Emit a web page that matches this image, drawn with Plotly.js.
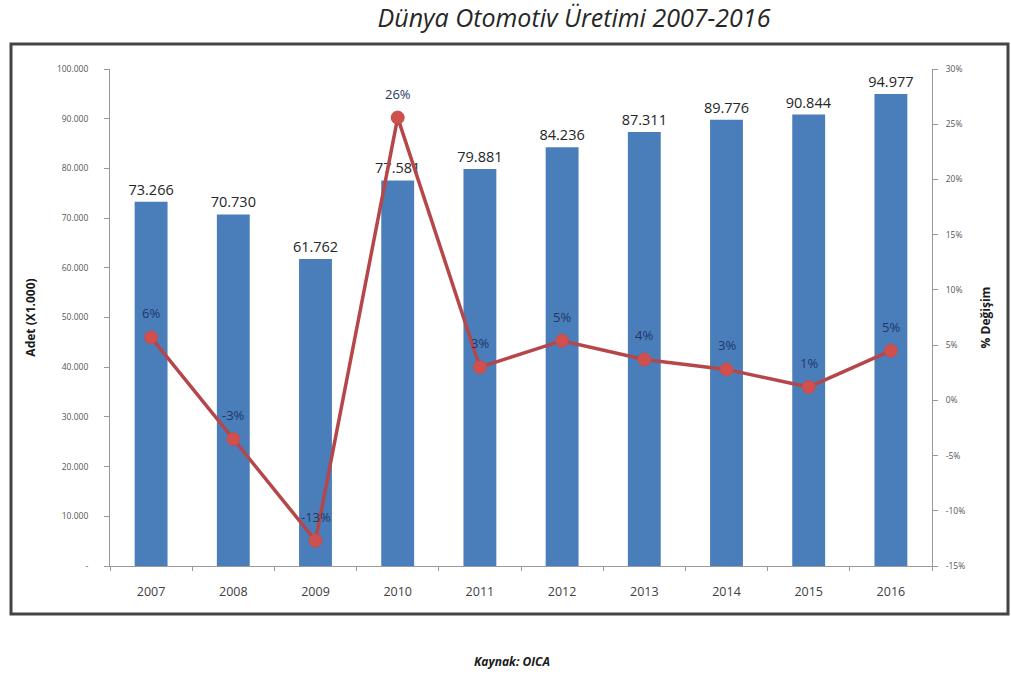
<!DOCTYPE html>
<html>
<head>
<meta charset="utf-8">
<script src="https://cdn.plot.ly/plotly-3.0.1.min.js"></script>
<style>
html,body{margin:0;padding:0;background:#fff;}
#chart{width:1011px;height:679px;}
</style>
</head>
<body>
<div id="chart"></div>
<script>
const years = [2007, 2008, 2009, 2010, 2011, 2012, 2013, 2014, 2015, 2016];
const yearLabels = ['2007','2008','2009','2010','2011','2012','2013','2014','2015','2016'];
const production = [73266, 70730, 61762, 77581, 79881, 84236, 87311, 89776, 90844, 94977];
const productionLabels = ['73.266','70.730','61.762','77.581','79.881','84.236','87.311','89.776','90.844','94.977'];
const changePct = [5.7, -3.5, -12.7, 25.6, 3.0, 5.4, 3.7, 2.8, 1.2, 4.5];
const changeLabels = ['6%','-3%','-13%','26%','3%','5%','4%','3%','1%','5%'];
const leftTickVals = [0,10000,20000,30000,40000,50000,60000,70000,80000,90000,100000];
const leftTickText = ['-','10.000','20.000','30.000','40.000','50.000','60.000','70.000','80.000','90.000','100.000'];
const rightTickVals = [-15,-10,-5,0,5,10,15,20,25,30];
const rightTickText = ['-15%','-10%','-5%','0%','5%','10%','15%','20%','25%','30%'];

const bars = {
  type:'bar', x:years, y:production, text:productionLabels,
  textposition:'outside', constraintext:'none', cliponaxis:false, width:0.4,
  textfont:{family:'Open Sans, Calibri, sans-serif', size:14.5, color:'#262626'},
  marker:{color:'#4a7ebb'}, hoverinfo:'x+y', showlegend:false
};
const line = {
  type:'scatter', mode:'lines+markers', x:years, y:changePct, xaxis:'x', yaxis:'y2',
  line:{color:'#b5474a', width:3.5},
  marker:{color:'#d0504f', size:13, line:{color:'#c0504d', width:1}},
  cliponaxis:false, showlegend:false
};

const annotations = changeLabels.map((t,i)=>({
  x:years[i], y:changePct[i], xref:'x', yref:'y2', text:t, showarrow:false,
  yshift:24, font:{family:'Open Sans, Calibri, sans-serif', size:13, color:'#1f3864'}
}));
annotations.push({
  text:'Kaynak: OICA', xref:'paper', yref:'paper', x:(512-110)/822, y:(566-661)/497,
  xanchor:'center', yanchor:'middle',
  showarrow:false, font:{family:'Open Sans, sans-serif', size:12, color:'#1a1a1a', weight:'bold', style:'italic'}
});

const layout = {
  width:1011, height:679,
  margin:{l:110, r:79, t:69, b:113},
  paper_bgcolor:'#fff', plot_bgcolor:'#fff',
  title:{text:'Dünya Otomotiv Üretimi 2007-2016', x:574/1011, xanchor:'center', y:1-18/679, yanchor:'middle',
    font:{family:'Open Sans, sans-serif', size:25, color:'#262626', style:'italic'}},
  xaxis:{type:'linear', range:[2006.5, 2016.5], tickvals:years, ticktext:yearLabels, ticks:'',
    ticklabelstandoff:14,
    minor:{ticks:'outside', tick0:2006.5, dtick:1, ticklen:4, tickcolor:'#999', showgrid:false},
    showline:true, linecolor:'#999', linewidth:1, showgrid:false, zeroline:false,
    tickfont:{family:'Open Sans, sans-serif', size:12.5, color:'#404040'}},
  yaxis:{range:[0,100000], tickvals:leftTickVals, ticktext:leftTickText, ticks:'outside', ticklen:5, tickcolor:'#999',
    ticklabelstandoff:14,
    showline:true, linecolor:'#999', linewidth:1, showgrid:false, zeroline:false,
    tickfont:{family:'Open Sans, sans-serif', size:8.5, color:'#555'},
    title:{text:'Adet (X1.000)', standoff:18, font:{family:'Open Sans, sans-serif', size:12, color:'#1a1a1a', weight:'bold'}}},
  yaxis2:{range:[-15,30], overlaying:'y', side:'right', tickvals:rightTickVals, ticktext:rightTickText,
    ticks:'outside', ticklen:5, tickcolor:'#999', showline:true, linecolor:'#999', linewidth:1,
    ticklabelstandoff:6,
    showgrid:false, zeroline:false,
    tickfont:{family:'Open Sans, sans-serif', size:8.5, color:'#555'},
    title:{text:'% Değişim', standoff:17, font:{family:'Open Sans, sans-serif', size:12, color:'#1a1a1a', weight:'bold'}}},
  annotations:annotations,
  shapes:[{type:'rect', xref:'paper', yref:'paper',
    x0:(11-110)/822, x1:(1008-110)/822, y0:(566-614)/497, y1:(566-44)/497,
    line:{color:'#444', width:3}, fillcolor:'rgba(0,0,0,0)', layer:'below'}]
};

Plotly.newPlot('chart', [bars, line], layout, {displayModeBar:false, staticPlot:true});
</script>
</body>
</html>
